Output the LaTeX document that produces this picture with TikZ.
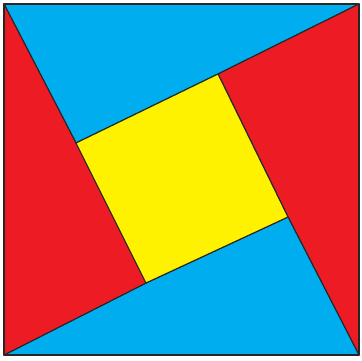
\documentclass[tikz,border=0pt]{standalone}
\usepackage{tikz}
\definecolor{piecered}{HTML}{ED1C24}
\definecolor{pieceblue}{HTML}{00AEEF}
\definecolor{pieceyellow}{HTML}{FFF200}

\begin{document}
\begin{tikzpicture}[x=1pt,y=-1pt,line width=1.1pt,line join=round]
      \tikzstyle{piece}=[draw=black!85]
      \useasboundingbox (0,0) rectangle (362,360);
      % outer corners
      \coordinate (tl) at (4,4);
      \coordinate (tr) at (359,4);
      \coordinate (br) at (359,355);
      \coordinate (bl) at (4,355);
      % inner square
      \coordinate (a) at (76,143);
      \coordinate (b) at (218,74);
      \coordinate (c) at (288,217);
      \coordinate (d) at (146,283);
      \filldraw[piece,fill=pieceblue] (tl) -- (tr) -- (b) -- (a) -- cycle;
      \filldraw[piece,fill=piecered] (tr) -- (br) -- (c) -- (b) -- cycle;
      \filldraw[piece,fill=pieceblue] (br) -- (bl) -- (d) -- (c) -- cycle;
      \filldraw[piece,fill=piecered] (bl) -- (tl) -- (a) -- (d) -- cycle;
      \filldraw[piece,fill=pieceyellow] (a) -- (b) -- (c) -- (d) -- cycle;
      \draw[piece,line width=1.5pt] (tl) rectangle (br);
    \end{tikzpicture}
\end{document}
